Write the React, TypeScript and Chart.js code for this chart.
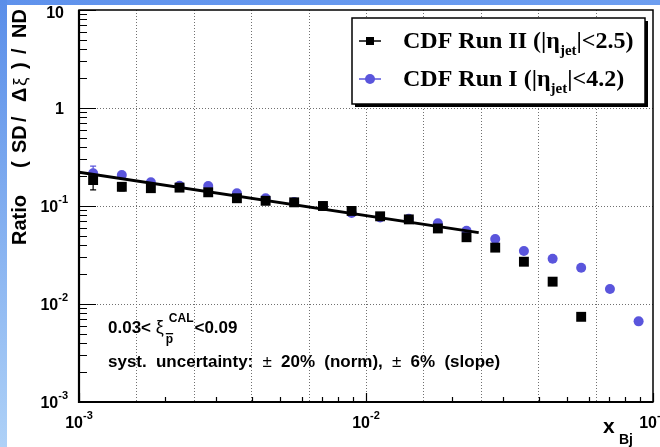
import React, { useEffect, useRef } from "react";
import { Chart, registerables } from "chart.js";
Chart.register(...registerables);

// ---------- data ----------
const xValues = [1.12e-3, 1.41e-3, 1.78e-3, 2.24e-3, 2.82e-3, 3.55e-3, 4.47e-3, 5.62e-3, 7.08e-3, 8.91e-3,
  1.12e-2, 1.41e-2, 1.78e-2, 2.24e-2, 2.82e-2, 3.55e-2, 4.47e-2, 5.62e-2, 7.08e-2, 8.91e-2];
const runII = [0.184, 0.157, 0.152, 0.154, 0.138, 0.12, 0.113, 0.109, 0.1, 0.089,
  0.0785, 0.073, 0.059, 0.048, 0.0376, 0.027, 0.0169, 0.0074];
const runI = [0.216, 0.207, 0.175, 0.161, 0.16, 0.135, 0.12, 0.11, 0.1, 0.085,
  0.0765, 0.074, 0.0665, 0.056, 0.046, 0.0347, 0.029, 0.0234, 0.0142, 0.00665];
const runIIErrLo = [0.146, 0.143];
const runIIErrHi = [0.222, 0.17];
const runIErrLo = [0.19];
const runIErrHi = [0.255];
const fitX = [1e-3, 2.47e-2];
const fitY = [0.221, 0.0535];

const X_MIN = 1e-3, X_MAX = 1e-1, Y_MIN = 1e-3, Y_MAX = 10;
const xGridValues = [1.585e-3, 2.512e-3, 3.981e-3, 6.31e-3, 1e-2, 1.585e-2, 2.512e-2, 3.981e-2, 6.31e-2];
const yGridValues = [1e-2, 1e-1, 1];
const xMajorTicks = [1e-3, 1e-2, 1e-1];
const xMinorTicks = [2e-3, 3e-3, 4e-3, 5e-3, 6e-3, 7e-3, 8e-3, 9e-3, 2e-2, 3e-2, 4e-2, 5e-2, 6e-2, 7e-2, 8e-2, 9e-2];
const yMajorTicks = [1e-3, 1e-2, 1e-1, 1, 10];
const yMinorTicks = [2e-3, 3e-3, 4e-3, 5e-3, 6e-3, 7e-3, 8e-3, 9e-3, 2e-2, 3e-2, 4e-2, 5e-2, 6e-2, 7e-2, 8e-2, 9e-2,
  0.2, 0.3, 0.4, 0.5, 0.6, 0.7, 0.8, 0.9, 2, 3, 4, 5, 6, 7, 8, 9];
const xLabelValues = [1e-3, 1e-2, 1e-1];
const xLabelExps = ["-3", "-2", "-1"];
const yLabelValues = [10, 1, 0.1, 0.01, 0.001];
const yLabelBases = ["10", "1", "10", "10", "10"];
const yLabelExps = ["", "", "-1", "-2", "-3"];

const legendLabels = ["CDF Run II (", "CDF Run I ("];
const legendLimits = ["|<2.5)", "|<4.2)"];
// y title pieces: text, bottom y where the piece starts (reading upward)
const yTitleParts = ["Ratio", "(", "SD", "/", "\u0394", "\u03be", ")", "/", "ND"];
const yTitleStarts = [245, 168, 153, 122, 102, 86, 69, 54, 38];
const systWords = ["syst.", "uncertainty:", "\u00b1", "20%", "(norm),", "\u00b1", "6%", "(slope)"];

const BLUE = "#5a55dc";
const SANS = '"Liberation Sans", Arial, Helvetica, sans-serif';
const SERIF = '"Liberation Serif", "Times New Roman", serif';

type Piece = { t: string; f: string; dy?: number };
function drawRich(ctx: CanvasRenderingContext2D, x: number, y: number, pieces: Piece[]) {
  let cx = x;
  for (const p of pieces) {
    ctx.font = p.f;
    ctx.fillText(p.t, cx, y + (p.dy || 0));
    cx += ctx.measureText(p.t).width;
  }
  return cx;
}
function richWidth(ctx: CanvasRenderingContext2D, pieces: Piece[]) {
  let w = 0;
  for (const p of pieces) { ctx.font = p.f; w += ctx.measureText(p.t).width; }
  return w;
}

const rootPlugin = {
  id: "rootStyle",
  beforeDraw(chart: any) {
    const ctx = chart.ctx as CanvasRenderingContext2D;
    const W = chart.width, H = chart.height;
    ctx.save();
    ctx.fillStyle = "#ffffff";
    ctx.fillRect(0, 0, W, H);
    const gTop = ctx.createLinearGradient(0, 0, W, 0);
    gTop.addColorStop(0, "#5f92ec");
    gTop.addColorStop(1, "#6d9ef0");
    ctx.fillStyle = gTop;
    ctx.fillRect(0, 0, W, 5);
    const gLeft = ctx.createLinearGradient(0, 0, 0, H);
    gLeft.addColorStop(0, "#5a8ee9");
    gLeft.addColorStop(1, "#aed1f7");
    ctx.fillStyle = gLeft;
    ctx.fillRect(0, 0, 7, H);
    ctx.restore();
  },
  beforeDatasetsDraw(chart: any) {
    const ctx = chart.ctx as CanvasRenderingContext2D;
    const a = chart.chartArea;
    const xs = chart.scales.x, ys = chart.scales.y;
    ctx.save();
    ctx.strokeStyle = "#707070";
    ctx.lineWidth = 1;
    ctx.setLineDash([1, 2]);
    for (const v of xGridValues) {
      const px = Math.round(xs.getPixelForValue(v)) + 0.5;
      ctx.beginPath(); ctx.moveTo(px, a.top); ctx.lineTo(px, a.bottom); ctx.stroke();
    }
    for (const v of yGridValues) {
      const py = Math.round(ys.getPixelForValue(v)) + 0.5;
      ctx.beginPath(); ctx.moveTo(a.left, py); ctx.lineTo(a.right, py); ctx.stroke();
    }
    ctx.setLineDash([]);
    ctx.lineWidth = 1.2;
    const drawErr = (xv: number, lo: number, hi: number, color: string) => {
      const px = xs.getPixelForValue(xv);
      const p1 = ys.getPixelForValue(lo), p2 = ys.getPixelForValue(hi);
      ctx.strokeStyle = color;
      ctx.beginPath(); ctx.moveTo(px, p1); ctx.lineTo(px, p2);
      ctx.moveTo(px - 3, p1); ctx.lineTo(px + 3, p1);
      ctx.moveTo(px - 3, p2); ctx.lineTo(px + 3, p2);
      ctx.stroke();
    };
    runIErrLo.forEach((lo, i) => drawErr(xValues[i], lo, runIErrHi[i], BLUE));
    runIIErrLo.forEach((lo, i) => drawErr(xValues[i], lo, runIIErrHi[i], "#000"));
    ctx.restore();
  },
  afterDatasetsDraw(chart: any) {
    const ctx = chart.ctx as CanvasRenderingContext2D;
    const a = chart.chartArea;
    const xs = chart.scales.x, ys = chart.scales.y;
    ctx.save();
    ctx.strokeStyle = "#000";
    ctx.lineWidth = 1.2;
    ctx.beginPath();
    for (const v of xMajorTicks) { const px = Math.round(xs.getPixelForValue(v)) + 0.5; ctx.moveTo(px, a.bottom); ctx.lineTo(px, a.bottom - 9); }
    for (const v of xMinorTicks) { const px = Math.round(xs.getPixelForValue(v)) + 0.5; ctx.moveTo(px, a.bottom); ctx.lineTo(px, a.bottom - 5); }
    for (const v of yMajorTicks) { const py = Math.round(ys.getPixelForValue(v)) + 0.5; ctx.moveTo(a.left, py); ctx.lineTo(a.left + 17, py); }
    for (const v of yMinorTicks) { const py = Math.round(ys.getPixelForValue(v)) + 0.5; ctx.moveTo(a.left, py); ctx.lineTo(a.left + 8, py); }
    ctx.stroke();
    ctx.lineWidth = 1.5;
    ctx.strokeRect(a.left, a.top, a.right - a.left, a.bottom - a.top);
    ctx.lineWidth = 2.2;
    ctx.beginPath();
    ctx.moveTo(a.left, a.top); ctx.lineTo(a.left, a.bottom); ctx.lineTo(a.right, a.bottom);
    ctx.stroke();

    // tick labels
    ctx.fillStyle = "#000";
    ctx.textBaseline = "alphabetic";
    ctx.textAlign = "left";
    const baseF = `bold 16px ${SANS}`, expF = `bold 11px ${SANS}`;
    yLabelValues.forEach((v, i) => {
      const py = ys.getPixelForValue(v);
      const pieces: Piece[] = [{ t: yLabelBases[i], f: baseF }];
      if (yLabelExps[i]) pieces.push({ t: yLabelExps[i], f: expF, dy: -9 });
      const w = richWidth(ctx, pieces);
      const right = yLabelExps[i] ? 68 : 64;
      drawRich(ctx, right - w, Math.max(py, 12) + 6, pieces);
    });
    xLabelValues.forEach((v, i) => {
      const px = xs.getPixelForValue(v);
      const pieces: Piece[] = [{ t: "10", f: baseF }, { t: xLabelExps[i], f: expF, dy: -9 }];
      const w = richWidth(ctx, pieces);
      drawRich(ctx, px - w / 2, a.bottom + 26, pieces);
    });

    // y title
    ctx.save();
    ctx.translate(26, 0);
    ctx.rotate(-Math.PI / 2);
    ctx.textAlign = "left";
    yTitleParts.forEach((t, i) => {
      ctx.font = t === "\u03be" ? `19px ${SANS}` : `bold 20px ${SANS}`;
      ctx.fillText(t, -yTitleStarts[i], 0);
    });
    ctx.restore();
    // x title
    drawRich(ctx, 603, 433, [{ t: "x", f: `bold 21px ${SANS}` }]);
    drawRich(ctx, 619, 444, [{ t: "Bj", f: `bold 14px ${SANS}` }]);

    // annotations
    const annF = `bold 17px ${SANS}`;
    let cx = drawRich(ctx, 108, 333, [{ t: "0.03<", f: annF }, { t: " ", f: annF }, { t: "\u03be", f: `18px ${SANS}` }]);
    ctx.font = `bold 12px ${SANS}`;
    ctx.fillText("p", cx + 2, 343);
    const pw = ctx.measureText("p").width;
    ctx.fillRect(cx + 2, 333, pw, 1.3);
    ctx.fillText("CAL", cx + 5, 322);
    const calEnd = cx + 5 + ctx.measureText("CAL").width;
    drawRich(ctx, calEnd + 1, 333, [{ t: "<0.09", f: annF }]);
    let wx = 108;
    ctx.font = annF;
    const spaceW = ctx.measureText(" ").width + 4.5;
    systWords.forEach((w) => {
      ctx.font = w === "\u00b1" ? `17px ${SANS}` : annF;
      ctx.fillText(w, wx, 367);
      wx += ctx.measureText(w).width + spaceW;
    });

    // legend
    const L = 352, T = 18, R = 645, B = 104;
    ctx.fillStyle = "#000";
    ctx.fillRect(L + 3, B, R - L, 3);
    ctx.fillRect(R, T + 3, 3, B - T);
    ctx.fillStyle = "#fff";
    ctx.fillRect(L, T, R - L, B - T);
    ctx.strokeStyle = "#000";
    ctx.lineWidth = 1.5;
    ctx.strokeRect(L, T, R - L, B - T);
    const rows = [48, 86];
    const legF = `bold 24px ${SERIF}`;
    rows.forEach((base, i) => {
      const cy = base - 7;
      ctx.strokeStyle = i === 0 ? "#000" : BLUE;
      ctx.lineWidth = 1.5;
      ctx.beginPath(); ctx.moveTo(359, cy); ctx.lineTo(381, cy); ctx.stroke();
      if (i === 0) { ctx.fillStyle = "#000"; ctx.fillRect(366, cy - 4, 8, 8); }
      else { ctx.fillStyle = BLUE; ctx.beginPath(); ctx.arc(370, cy, 5, 0, Math.PI * 2); ctx.fill(); }
      ctx.fillStyle = "#000";
      drawRich(ctx, 403, base, [
        { t: legendLabels[i], f: legF },
        { t: "|\u03b7", f: legF },
        { t: "jet", f: `bold 15px ${SERIF}`, dy: 7 },
        { t: legendLimits[i], f: legF },
      ]);
    });
    ctx.restore();
  },
};

export default function App() {
  const ref = useRef<HTMLCanvasElement | null>(null);
  useEffect(() => {
    if (!ref.current) return;
    const chart = new Chart(ref.current, {
      type: "scatter",
      data: {
        datasets: [
          {
            label: "fit",
            data: fitX.map((x, i) => ({ x, y: fitY[i] })),
            showLine: true,
            borderColor: "#000",
            borderWidth: 3,
            pointRadius: 0,
          },
          {
            label: "CDF Run II",
            data: runII.map((y, i) => ({ x: xValues[i], y })),
            pointStyle: "rect",
            pointRadius: 7,
            backgroundColor: "#000",
            borderColor: "#000",
            borderWidth: 0,
            showLine: false,
          },
          {
            label: "CDF Run I",
            data: runI.map((y, i) => ({ x: xValues[i], y })),
            pointStyle: "circle",
            pointRadius: 5,
            backgroundColor: BLUE,
            borderColor: BLUE,
            borderWidth: 0,
            showLine: false,
          },
        ],
      } as any,
      options: {
        responsive: false,
        animation: false,
        devicePixelRatio: 1,
        layout: { padding: { left: 79, top: 10, right: 5, bottom: 45 } },
        scales: {
          x: { type: "logarithmic", min: X_MIN, max: X_MAX, display: false },
          y: { type: "logarithmic", min: Y_MIN, max: Y_MAX, display: false },
        },
        plugins: { legend: { display: false }, tooltip: { enabled: false } },
      } as any,
      plugins: [rootPlugin as any],
    });
    return () => chart.destroy();
  }, []);
  return (
    <div style={{ position: "fixed", left: 0, top: 0, width: 660, height: 447 }}>
      <canvas ref={ref} width={660} height={447} style={{ display: "block" }} />
    </div>
  );
}
